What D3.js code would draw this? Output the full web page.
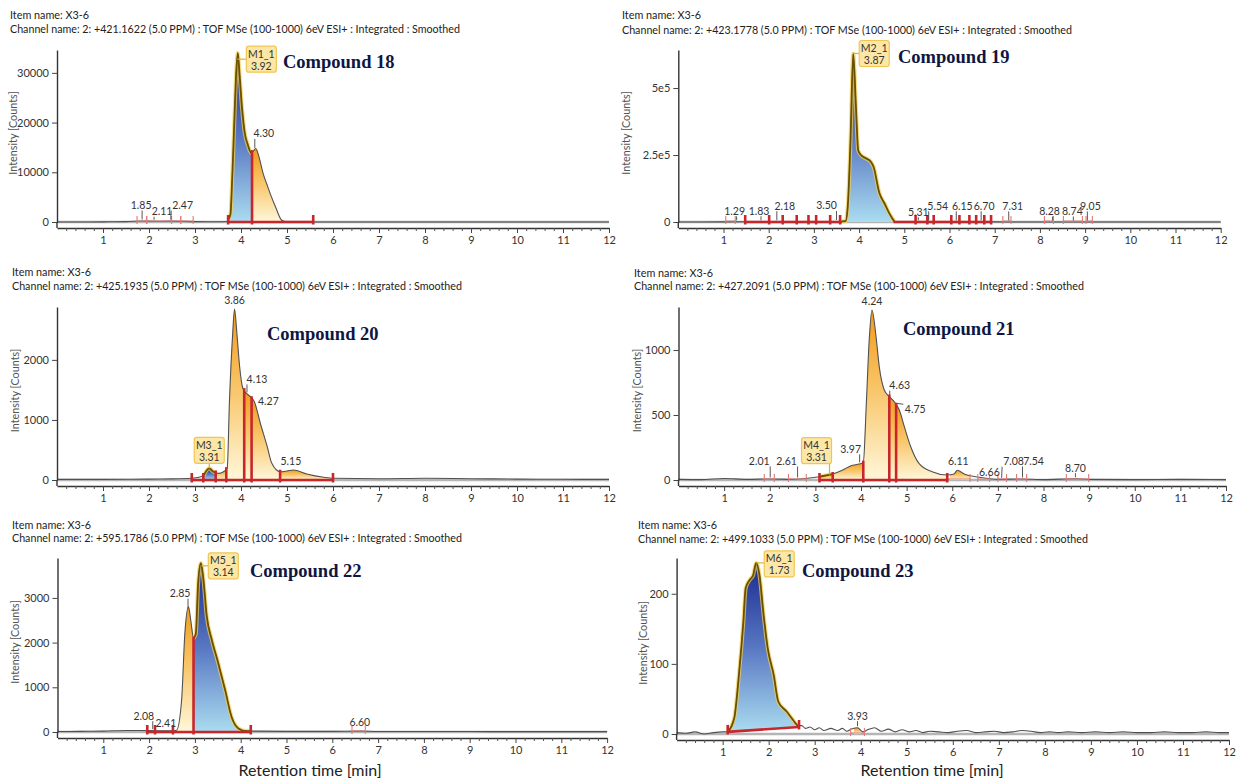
<!DOCTYPE html>
<html><head><meta charset="utf-8">
<script src="https://cdn.jsdelivr.net/npm/d3@7"></script>
<style>
html,body{margin:0;padding:0;background:#fff;}
svg{display:block;}
</style></head><body>
<svg id="chart" width="1244" height="778"></svg>
<script>
// ---------------- DATA ----------------
const itemName = "Item name: X3-6";
const xTickValues = [1,2,3,4,5,6,7,8,9,10,11,12];
const xAxisTitle = "Retention time [min]";
const yAxisTitle = "Intensity [Counts]";

// Compound 18
const c18Title = "Compound 18";
const c18Channel = "Channel name: 2: +421.1622 (5.0 PPM) : TOF MSe (100-1000) 6eV ESI+ : Integrated : Smoothed";
const c18Time = [0,0.5,1.0,1.5,1.85,2.11,2.47,3.0,3.5,3.7,3.77,3.81,3.85,3.89,3.93,3.97,4.02,4.08,4.15,4.22,4.27,4.32,4.40,4.48,4.57,4.66,4.76,4.88,4.96,5.2,6,7,8,9,10,11,12];
const c18Int  = [0,0,30,80,200,150,180,80,60,100,1500,9000,19000,29000,34000,29500,23200,18000,15500,13900,14300,14800,12800,9800,7400,5100,2800,400,100,30,0,0,0,0,0,0,0];
const c18YMax = 34600;
const c18YTicks = [0,10000,20000,30000];
const c18YTickLabels = ["0","10000","20000","30000"];
const c18Regions = [[3.72,4.24,"target"],[4.24,5.57,"peak"]];
const c18Base = [[3.72,5.57]];
const c18Bounds = [3.72,4.24,5.57];
const c18Minor = [[1.74,1.95],[1.95,2.49],[2.49,2.69],[2.69,2.96]];
const c18Outline = [3.72,4.24];
const c18Labels = [1.85,2.11,2.47,4.30];
const c18Target = {name:"M1_1", rt:3.92};

// Compound 19
const c19Title = "Compound 19";
const c19Channel = "Channel name: 2: +423.1778 (5.0 PPM) : TOF MSe (100-1000) 6eV ESI+ : Integrated : Smoothed";
const c19Time = [0,1,2,3,3.5,3.70,3.75,3.81,3.87,3.93,3.98,4.04,4.15,4.26,4.32,4.45,4.56,4.66,4.78,5,6,7,8,9,10,11,12];
const c19Int  = [0,500,1000,1500,2000,3000,60000,306000,629000,430000,268000,250000,238000,225000,206000,107000,70000,35000,2000,1000,500,500,0,0,0,0,0];
const c19YMax = 642000;
const c19YTicks = [0,250000,500000];
const c19YTickLabels = ["0","2.5e5","5e5"];
const c19Regions = [[3.62,4.76,"target"]];
const c19Base = [[1.48,3.62],[4.76,6.92]];
const c19Bounds = [1.48,2.01,2.31,2.62,2.88,3.05,3.36,3.58,5.25,5.51,5.65,6.04,6.22,6.44,6.59,6.77,6.92];
const c19Minor = [[1.05,1.26],[7.18,7.36],[8.10,8.30],[8.52,8.94],[9.02,9.16]];
const c19Outline = [3.62,4.78];
const c19Labels = [1.29,1.83,2.18,3.50,5.31,5.54,6.15,6.70,7.31,8.28,8.74,9.05];
const c19Target = {name:"M2_1", rt:3.87};

// Compound 20
const c20Title = "Compound 20";
const c20Channel = "Channel name: 2: +425.1935 (5.0 PPM) : TOF MSe (100-1000) 6eV ESI+ : Integrated : Smoothed";
const c20Time = [0,1,2,2.5,2.93,3.18,3.31,3.40,3.51,3.62,3.70,3.75,3.82,3.86,3.91,3.97,4.04,4.13,4.20,4.29,4.42,4.57,4.67,4.85,5.0,5.14,5.43,5.80,6.01,7,8,9,10,11,12];
const c20Int  = [10,10,15,18,28,67,195,138,110,138,195,1333,2445,2845,2445,1890,1528,1433,1390,1305,945,555,278,138,150,167,100,45,28,20,28,22,15,12,10];
const c20YMax = 2880;
const c20YTicks = [0,1000,2000];
const c20YTickLabels = ["0","1000","2000"];
const c20Regions = [[3.18,3.45,"target"],[3.45,3.68,"peak"],[3.68,4.07,"peak"],[4.07,4.23,"peak"],[4.23,4.85,"peak"],[4.85,6.0,"peak"]];
const c20Base = [[2.93,6.0]];
const c20Bounds = [2.93,3.18,3.45,3.68,4.07,4.23,4.85,6.0];
const c20Minor = [];
const c20Outline = [3.18,3.45];
const c20Labels = [3.86,4.13,4.27,5.15];
const c20Target = {name:"M3_1", rt:3.31};

// Compound 21
const c21Title = "Compound 21";
const c21Channel = "Channel name: 2: +427.2091 (5.0 PPM) : TOF MSe (100-1000) 6eV ESI+ : Integrated : Smoothed";
const c21Time = [0,0.5,1.0,1.5,2.0,2.5,2.83,3.09,3.38,3.60,3.78,3.96,4.05,4.12,4.18,4.24,4.33,4.40,4.51,4.62,4.73,4.84,4.95,5.09,5.27,5.56,5.89,6.04,6.11,6.26,6.51,6.70,7.0,7.5,8.0,8.7,9.0,10,11,12];
const c21Int  = [5,3,12,5,8,5,13,25,46,77,110,123,133,615,1077,1308,1102,872,692,641,602,538,410,256,128,64,38,46,75,46,25,15,5,8,3,10,5,3,5,3];
const c21YMax = 1331;
const c21YTicks = [0,500,1000];
const c21YTickLabels = ["0","500","1000"];
const c21Regions = [[3.09,3.38,"peak"],[3.38,4.05,"peak"],[4.05,4.62,"peak"],[4.62,4.77,"peak"],[4.77,5.89,"peak"],[5.95,6.39,"peak"]];
const c21Base = [[3.09,5.89]];
const c21Bounds = [3.09,3.38,4.05,4.62,4.77,5.89];
const c21Minor = [[1.88,2.10],[2.41,2.80],[5.89,6.39],[6.56,6.82],[7.0,7.19],[7.41,7.63],[8.5,8.99]];
const c21Outline = [3.09,3.38];
const c21Labels = [2.01,2.61,3.97,4.24,4.63,4.75,6.11,6.66,7.08,7.54,8.70];
const c21Target = {name:"M4_1", rt:3.31};

// Compound 22
const c22Title = "Compound 22";
const c22Channel = "Channel name: 2: +595.1786 (5.0 PPM) : TOF MSe (100-1000) 6eV ESI+ : Integrated : Smoothed";
const c22Time = [0,0.5,1.0,1.5,2.0,2.5,2.60,2.71,2.78,2.86,2.91,2.97,3.02,3.07,3.13,3.18,3.26,3.37,3.51,3.66,3.80,3.95,4.13,5,6,6.6,7,8,9,10,11,12];
const c22Int  = [10,15,20,35,30,25,40,716,2200,2800,2500,2095,2200,3320,3780,3470,2580,2060,1540,940,340,80,20,15,15,20,12,10,10,8,8,8];
const c22YMax = 3893;
const c22YTicks = [0,1000,2000,3000];
const c22YTickLabels = ["0","1000","2000","3000"];
const c22Regions = [[2.52,2.97,"peak"],[2.97,4.22,"target"]];
const c22Base = [[1.96,4.22]];
const c22Bounds = [1.96,2.13,2.52,2.97,4.22];
const c22Minor = [[6.43,6.72]];
const c22Outline = [2.97,4.22];
const c22Labels = [2.08,2.41,2.85,6.60];
const c22Target = {name:"M5_1", rt:3.14};

// Compound 23
const c23Title = "Compound 23";
const c23Channel = "Channel name: 2: +499.1033 (5.0 PPM) : TOF MSe (100-1000) 6eV ESI+ : Integrated : Smoothed";
const c23Time = [0,0.2,0.4,0.6,0.8,1.0,1.11,1.25,1.36,1.45,1.50,1.59,1.66,1.73,1.80,1.89,1.98,2.11,2.21,2.39,2.53,2.64,2.72,2.8,2.9,3.0,3.1,3.2,3.35,3.5,3.6,3.7,3.8,3.93,4.05,4.15,4.3,4.45,4.6,4.75,4.9,5.05,5.2,5.35,5.5,5.7,5.9,6.1,6.3,6.5,6.7,6.9,7.1,7.3,7.5,7.7,7.9,8.1,8.3,8.5,8.8,9.1,9.4,9.7,10.0,10.3,10.6,10.9,11.2,11.5,11.8,12];
const c23Int  = [2,1,3,0,2,3,3,22,89,160,208,220,226,244,227,170,122,84,46,32,20,12,12,8,10,6,9,5,8,5,8,4,7,9,3,6,9,4,7,3,6,3,5,2,4,3,2,4,5,2,3,4,2,3,5,4,2,3,2,3,2,3,2,3,2,2,3,2,2,3,2,2];
const c23YMax = 251;
const c23YTicks = [0,100,200];
const c23YTickLabels = ["0","100","200"];
const c23Regions = [[1.11,2.66,"target"],[3.85,4.0,"peak"]];
const c23Base = [[1.11,2.66,3,10]];
const c23Bounds = [1.11,2.66];
const c23Minor = [[3.78,4.08]];
const c23Outline = [1.11,2.66];
const c23Labels = [3.93];
const c23Target = {name:"M6_1", rt:1.73};

// ---------------- LAYOUT (positions / styles) ----------------
const layout = {
  c18:{xr:[57,609], y0:222, top:50, head:[10,19,33], title:[283,68], yTitleX:14,
       labelOff:[[-1,-16],[8,-10],[12,-16],[9,-16]], boxOff:[24,0]},
  c19:{xr:[678.3,1220.7], y0:222, top:50, head:[622,19,33.5], title:[898,63], yTitleX:627,
       labelOff:[[-2,-11],[-2,-11],[8,-16],[-10,-16],[0,-10],[9,-16],[6,-16],[3,-16],[4,-16],[-3,-11],[-1,-11],[3,-16]], boxOff:[21,0]},
  c20:{xr:[57,609], y0:480, top:307, head:[12,275.5,289.5], title:[267,340], yTitleX:16,
       labelOff:[[0,-9],[10,-15],[15,1],[-3,-9]], boxOff:[0,-18]},
  c21:{xr:[678.5,1226], y0:480, top:307, head:[634,277,290], title:[903,335], yTitleX:638,
       labelOff:[[-11,-18],[-11,-18],[-9,-15],[0,-9],[10,-12],[20,6],[1,-9],[7,-6],[12,-18],[11,-18],[0,-11]], boxOff:[-13,-24]},
  c22:{xr:[57.5,607.1], y0:732, top:558, head:[12,529,542], title:[250,577], yTitleX:16, xTitle:[310,776],
       labelOff:[[-9,-15],[-2,-8],[-8,-17],[0,-9]], boxOff:[22,0]},
  c23:{xr:[676.6,1229], y0:734, top:558, head:[638,529,543], title:[802,577], yTitleX:644, xTitle:[932,776],
       labelOff:[[0,-12]], boxOff:[23,1]}
};

const panels = [
  {id:"c18", title:c18Title, channel:c18Channel, time:c18Time, val:c18Int, yMax:c18YMax, yTicks:c18YTicks, yLabels:c18YTickLabels, regions:c18Regions, base:c18Base, bounds:c18Bounds, minor:c18Minor, outline:c18Outline, labels:c18Labels, target:c18Target},
  {id:"c19", title:c19Title, channel:c19Channel, time:c19Time, val:c19Int, yMax:c19YMax, yTicks:c19YTicks, yLabels:c19YTickLabels, regions:c19Regions, base:c19Base, bounds:c19Bounds, minor:c19Minor, outline:c19Outline, labels:c19Labels, target:c19Target},
  {id:"c20", title:c20Title, channel:c20Channel, time:c20Time, val:c20Int, yMax:c20YMax, yTicks:c20YTicks, yLabels:c20YTickLabels, regions:c20Regions, base:c20Base, bounds:c20Bounds, minor:c20Minor, outline:c20Outline, labels:c20Labels, target:c20Target},
  {id:"c21", title:c21Title, channel:c21Channel, time:c21Time, val:c21Int, yMax:c21YMax, yTicks:c21YTicks, yLabels:c21YTickLabels, regions:c21Regions, base:c21Base, bounds:c21Bounds, minor:c21Minor, outline:c21Outline, labels:c21Labels, target:c21Target},
  {id:"c22", title:c22Title, channel:c22Channel, time:c22Time, val:c22Int, yMax:c22YMax, yTicks:c22YTicks, yLabels:c22YTickLabels, regions:c22Regions, base:c22Base, bounds:c22Bounds, minor:c22Minor, outline:c22Outline, labels:c22Labels, target:c22Target},
  {id:"c23", title:c23Title, channel:c23Channel, time:c23Time, val:c23Int, yMax:c23YMax, yTicks:c23YTicks, yLabels:c23YTickLabels, regions:c23Regions, base:c23Base, bounds:c23Bounds, minor:c23Minor, outline:c23Outline, labels:c23Labels, target:c23Target}
];

const UI_FONT = "'Segoe UI', Lato, 'Noto Sans', sans-serif";
const RED = "#c8262b", LRED = "#e27a7a";

// ---------------- DRAW ----------------
const svg = d3.select("#chart");
svg.append("rect").attr("width",1244).attr("height",778).attr("fill","#fff");
const defs = svg.append("defs");
function grad(id, stops){
  const g = defs.append("linearGradient").attr("id",id).attr("x1",0).attr("y1",0).attr("x2",0).attr("y2",1);
  stops.forEach(s=>g.append("stop").attr("offset",s[0]).attr("stop-color",s[1]));
}
grad("gBlue",[["0%","#1a2a8f"],["50%","#5877c2"],["100%","#aadcf0"]]);
grad("gOrange",[["0%","#f29a1c"],["45%","#f8c466"],["100%","#fff7da"]]);

function interp(pts,t){
  if(t<=pts[0][0]) return pts[0][1];
  for(let i=1;i<pts.length;i++){
    if(t<=pts[i][0]){const [t0,v0]=pts[i-1],[t1,v1]=pts[i];return v0+(v1-v0)*(t-t0)/(t1-t0);}
  }
  return pts[pts.length-1][1];
}
function segment(pts,a,b){
  const out=[[a,interp(pts,a)]];
  pts.forEach(p=>{if(p[0]>a+1e-9&&p[0]<b-1e-9)out.push(p);});
  out.push([b,interp(pts,b)]);
  return out;
}

panels.forEach(p=>{
  const L = layout[p.id];
  const g = svg.append("g");
  const x = d3.scaleLinear().domain([0,12]).range(L.xr);
  const y = d3.scaleLinear().domain([0,p.yMax]).range([L.y0,L.top]);
  const n = Math.min(p.time.length,p.val.length);
  const pts = d3.range(n).map(i=>[p.time[i],p.val[i]]);
  const baseVal = t=>{
    for(const s of p.base){ if(s.length>2 && t>=s[0]-1e-9 && t<=s[1]+1e-9) return s[2]+(s[3]-s[2])*(t-s[0])/(s[1]-s[0]); }
    return 0;
  };

  // headers
  g.append("text").attr("x",L.head[0]).attr("y",L.head[1]).attr("font-family",UI_FONT).attr("font-size",10.8).attr("fill","#222").text(itemName);
  g.append("text").attr("x",L.head[0]).attr("y",L.head[2]).attr("font-family",UI_FONT).attr("font-size",10.7).attr("fill","#222").text(p.channel);

  // zero reference band
  g.append("line").attr("x1",x(0)).attr("x2",x(12)).attr("y1",y(0)).attr("y2",y(0))
    .attr("stroke","#b5b5b5").attr("stroke-width",2.5);

  // filled integrated regions
  const area = d3.area().x(d=>x(d[0])).y0(d=>y(baseVal(d[0]))).y1(d=>y(d[1])).curve(d3.curveMonotoneX);
  p.regions.forEach(r=>{
    g.append("path").attr("d",area(segment(pts,r[0],r[1])))
      .attr("fill", r[2]==="target"?"url(#gBlue)":"url(#gOrange)");
  });

  // chromatogram trace
  const line = d3.line().x(d=>x(d[0])).y(d=>y(d[1])).curve(d3.curveMonotoneX);
  g.append("path").attr("d",line(pts)).attr("fill","none").attr("stroke","#505050").attr("stroke-width",1.1);

  // highlighted target outline
  const seg = segment(pts,p.outline[0],p.outline[1]);
  g.append("path").attr("d",line(seg)).attr("fill","none").attr("stroke","#f2cf55").attr("stroke-width",4).attr("stroke-opacity",0.75).attr("stroke-linejoin","round");
  g.append("path").attr("d",line(seg)).attr("fill","none").attr("stroke","#6b5000").attr("stroke-width",1.8).attr("stroke-linejoin","round");

  // minor integration brackets
  p.minor.forEach(m=>{
    const yb = y(0)-1;
    g.append("path").attr("d",`M${x(m[0])},${yb+3}V${yb-5}M${x(m[0])},${yb}H${x(m[1])}M${x(m[1])},${yb+3}V${yb-5}`)
      .attr("fill","none").attr("stroke",LRED).attr("stroke-width",1.1);
  });

  // integration baselines
  p.base.forEach(s=>{
    const v0 = s.length>2?s[2]:0, v1 = s.length>2?s[3]:0;
    g.append("line").attr("x1",x(s[0])).attr("x2",x(s[1])).attr("y1",y(v0)).attr("y2",y(v1))
      .attr("stroke",RED).attr("stroke-width",2.6);
  });
  // boundary markers / drop lines
  p.bounds.forEach(t=>{
    const yb = y(baseVal(t));
    const yc = y(interp(pts,t));
    const yTop = Math.min(yb-7, yc-2);
    g.append("line").attr("x1",x(t)).attr("x2",x(t)).attr("y1",yb+2.5).attr("y2",yTop)
      .attr("stroke",RED).attr("stroke-width",2.6);
  });

  // axes
  const axisY = L.y0+6;
  const xa = g.append("g").attr("transform",`translate(0,${axisY})`)
    .call(d3.axisBottom(x).tickValues(xTickValues).tickSize(5).tickSizeOuter(0).tickFormat(d3.format("d")));
  xa.select(".domain").attr("stroke","#333").attr("stroke-width",1.4);
  xa.selectAll(".tick line").attr("stroke","#444");
  xa.selectAll("text").attr("font-family",UI_FONT).attr("font-size",11).attr("fill","#333").attr("dy","0.72em");
  const xm = g.append("g").attr("transform",`translate(0,${axisY})`)
    .call(d3.axisBottom(x).tickValues(d3.range(0.2,12,0.2).filter(v=>Math.abs(v-Math.round(v))>0.01)).tickSize(3).tickFormat(""));
  xm.select(".domain").remove();
  xm.selectAll(".tick line").attr("stroke","#555");

  const ya = g.append("g").attr("transform",`translate(${x(0)},0)`)
    .call(d3.axisLeft(y).tickValues(p.yTicks).tickSize(5).tickSizeOuter(0).tickFormat((d,i)=>p.yLabels[i]));
  ya.select(".domain").attr("stroke","#333").attr("stroke-width",1.4);
  ya.selectAll(".tick line").attr("stroke","#444");
  ya.selectAll("text").attr("font-family",UI_FONT).attr("font-size",11).attr("fill","#333");
  g.append("line").attr("x1",x(0)).attr("x2",x(0)).attr("y1",L.y0).attr("y2",axisY).attr("stroke","#333").attr("stroke-width",1.4);

  // y axis title
  const ymid = (L.top+L.y0)/2 - 3;
  g.append("text").attr("transform",`translate(${L.yTitleX},${ymid}) rotate(-90)`).attr("text-anchor","middle")
    .attr("dominant-baseline","middle").attr("font-family",UI_FONT).attr("font-size",10.8).attr("fill","#555").text(yAxisTitle);
  if(L.xTitle){
    g.append("text").attr("x",L.xTitle[0]).attr("y",L.xTitle[1]).attr("text-anchor","middle")
      .attr("font-family",UI_FONT).attr("font-size",16).attr("fill","#222").text(xAxisTitle);
  }

  // peak labels
  p.labels.forEach((t,i)=>{
    const off = L.labelOff[i]||[0,-10];
    const ax = x(t), ay = y(interp(pts,t));
    const tx = ax+off[0], ty = ay+off[1];
    const txt = g.append("text").attr("x",tx).attr("y",ty).attr("text-anchor","middle").attr("dominant-baseline","central")
      .attr("font-family",UI_FONT).attr("font-size",10.5).attr("fill","#333").text(t.toFixed(2));
    const w = txt.node().getComputedTextLength()+2, h = 10;
    const ex = Math.max(tx-w/2,Math.min(ax,tx+w/2)), ey = Math.max(ty-h/2,Math.min(ay,ty+h/2));
    const dx = ex-ax, dy = ey-ay, d = Math.hypot(dx,dy);
    if(d>4){
      g.append("line").attr("x1",ax+dx/d*1.5).attr("y1",ay+dy/d*1.5).attr("x2",ex-dx/d*0.5).attr("y2",ey-dy/d*0.5)
        .attr("stroke","#444").attr("stroke-width",0.9);
    }
  });

  // target box
  const T = p.target;
  const bax = x(T.rt), bay = y(interp(pts,T.rt));
  const bw = 30, bh = 26;
  const bcx = bax+L.boxOff[0], bcy = bay+L.boxOff[1];
  const ex = Math.max(bcx-bw/2,Math.min(bax,bcx+bw/2)), ey = Math.max(bcy-bh/2,Math.min(bay,bcy+bh/2));
  if(Math.hypot(ex-bax,ey-bay)>2){
    g.append("line").attr("x1",bax).attr("y1",bay).attr("x2",ex).attr("y2",ey).attr("stroke","#d9b040").attr("stroke-width",1.2);
  }
  g.append("rect").attr("x",bcx-bw/2).attr("y",bcy-bh/2).attr("width",bw).attr("height",bh).attr("rx",2.5)
    .attr("fill","#fde7a6").attr("stroke","#f1c552").attr("stroke-width",1.2);
  g.append("text").attr("x",bcx).attr("y",bcy-5.5).attr("text-anchor","middle").attr("dominant-baseline","central")
    .attr("font-family",UI_FONT).attr("font-size",10.5).attr("fill","#333").text(T.name);
  g.append("text").attr("x",bcx).attr("y",bcy+6.5).attr("text-anchor","middle").attr("dominant-baseline","central")
    .attr("font-family",UI_FONT).attr("font-size",10.5).attr("fill","#333").text(T.rt.toFixed(2));

  // compound title
  g.append("text").attr("x",L.title[0]).attr("y",L.title[1])
    .attr("font-family","'Liberation Serif','Times New Roman',serif").attr("font-weight","bold")
    .attr("font-size",18.5).attr("fill","#0e1642").text(p.title);
});
</script>
</body></html>
